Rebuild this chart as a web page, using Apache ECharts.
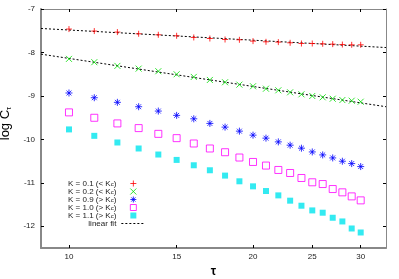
<!DOCTYPE html>
<html>
<head>
<meta charset="utf-8">
<script src="https://cdn.jsdelivr.net/npm/echarts@6/dist/echarts.min.js"></script>
<style>html,body{margin:0;padding:0;background:#fff}#c{width:399px;height:279px}</style>
</head>
<body>
<div id="c"></div>
<script>
var taus = [10,11,12,13,14,15,16,17,18,19,20,21,22,23,24,25,26,27,28,29,30];
var k01 = [-7.462,-7.508,-7.531,-7.570,-7.593,-7.616,-7.655,-7.679,-7.702,-7.709,-7.739,-7.755,-7.762,-7.778,-7.794,-7.794,-7.801,-7.808,-7.818,-7.824,-7.824];
var k02 = [-8.148,-8.224,-8.309,-8.372,-8.432,-8.502,-8.563,-8.633,-8.686,-8.741,-8.778,-8.834,-8.871,-8.917,-8.963,-9.002,-9.032,-9.065,-9.095,-9.111,-9.134];
var k09 = [-8.933,-9.042,-9.148,-9.249,-9.349,-9.448,-9.527,-9.633,-9.718,-9.811,-9.903,-9.972,-10.058,-10.134,-10.203,-10.289,-10.358,-10.427,-10.503,-10.557,-10.626];
var k10 = [-9.379,-9.503,-9.633,-9.741,-9.873,-9.972,-10.095,-10.210,-10.296,-10.418,-10.520,-10.603,-10.704,-10.774,-10.889,-10.988,-11.028,-11.143,-11.219,-11.312,-11.404];
var k11 = [-9.771,-9.919,-10.072,-10.210,-10.349,-10.473,-10.596,-10.711,-10.834,-10.965,-11.081,-11.189,-11.289,-11.411,-11.527,-11.635,-11.688,-11.804,-11.889,-12.051,-12.143];
var fitX = [9, 33];
var fit01 = [-7.448, -7.887];
var fit02 = [-8.039, -9.249];
var xTicks = [10, 15, 20, 25, 30];
var yTicks = [-12, -11, -10, -9, -8, -7];
var names = ['K = 0.1 (< Kc)', 'K = 0.2 (< Kc)', 'K = 0.9 (> Kc)', 'K = 1.0 (> Kc)', 'K = 1.1 (> Kc)', 'linear fit'];

function pairs(xs, ys) { return xs.map(function (x, i) { return [x, ys[i]]; }); }

var FONT = 'Liberation Sans';
var plusPath = 'path://M0,5L10,5M5,0L5,10';
var crossPath = 'path://M0,0L10,10M10,0L0,10';
var starPath = 'path://M0,5L10,5M5,0L5,10M1.5,1.5L8.5,8.5M8.5,1.5L1.5,8.5';
var squarePath = 'path://M0,0L10,0L10,10L0,10Z';
var colors = ['#ff0000', '#00dd00', '#0000ff', '#ff00ff', '#00e5ee'];

function axisCommon(pos, isX, main) {
  var o = {
    position: pos,
    min: isX ? 9 : -12.5,
    max: isX ? 33 : -7,
    axisLine: { show: true, lineStyle: { color: '#888', width: main ? 2 : 1 } },
    axisTick: { show: true, inside: true, length: 3, lineStyle: { color: '#000', width: 1 }, customValues: isX ? xTicks : yTicks },
    axisLabel: { show: main, color: '#222', fontSize: 8, fontFamily: FONT, margin: isX ? 5 : 6, customValues: isX ? xTicks : yTicks },
    splitLine: { show: false }
  };
  if (isX) { o.type = 'log'; o.logBase = 10; } else { o.type = 'value'; }
  return o;
}

var xMain = axisCommon('bottom', true, true);
xMain.name = 'τ';
xMain.nameLocation = 'middle';
xMain.nameGap = 14;
xMain.nameTextStyle = { fontSize: 12, fontFamily: FONT, color: '#000', fontWeight: 'bold' };
var xTop = axisCommon('top', true, false);
var yMain = axisCommon('left', false, true);
yMain.name = '{a|log C}{s|τ}';
yMain.nameLocation = 'middle';
yMain.nameRotate = 90;
yMain.nameGap = 23;
yMain.nameTextStyle = { padding: [0, 0, 0, 10], rich: { a: { fontSize: 13, fontFamily: FONT, color: '#000' }, s: { fontSize: 8, fontFamily: FONT, color: '#000', verticalAlign: 'bottom', padding: [6, 0, 0, 0] } } };
var yRight = axisCommon('right', false, false);

var legendRich = {
  a: { fontSize: 8, fontFamily: FONT, color: '#222', lineHeight: 7.6 },
  s: { fontSize: 6, fontFamily: FONT, color: '#222', lineHeight: 3, verticalAlign: 'bottom' }
};

function scatter(name, ys, symbol, size, color, filled) {
  return {
    type: 'scatter', name: name, data: pairs(taus, ys), symbol: symbol, symbolSize: size,
    xAxisIndex: 0, yAxisIndex: 0,
    itemStyle: filled ? { color: color } : { color: 'rgba(0,0,0,0)', borderColor: color, borderWidth: 1 },
    emphasis: { disabled: true }, animation: false
  };
}
function fit(ys) {
  return {
    type: 'line', name: 'linear fit', data: pairs(fitX, ys), symbol: 'none', showSymbol: false,
    lineStyle: { color: '#000', width: 1, type: [2, 2] }, itemStyle: { color: '#000' },
    xAxisIndex: 0, yAxisIndex: 0, animation: false, z: 1
  };
}
function legItem(i, icon, filled) {
  return {
    name: names[i], icon: icon,
    itemStyle: filled ? { color: colors[i], borderWidth: 0 } : { color: 'rgba(0,0,0,0)', borderColor: colors[i], borderWidth: 1 }
  };
}

var chart = echarts.init(document.getElementById('c'), null, { renderer: 'canvas' });
chart.setOption({
  backgroundColor: '#fff',
  animation: false,
  grid: { left: 41, right: 13, top: 9, bottom: 31, containLabel: false, outerBoundsMode: 'none' },
  xAxis: [xMain, xTop],
  yAxis: [yMain, yRight],
  legend: {
    data: [
      legItem(0, plusPath, false),
      legItem(1, crossPath, false),
      legItem(2, starPath, false),
      legItem(3, squarePath, false),
      legItem(4, squarePath, true),
      { name: names[5], itemStyle: { color: 'rgba(0,0,0,0)', borderWidth: 0, opacity: 0 }, lineStyle: { width: 1, color: '#000', type: [2, 2] } }
    ],
    orient: 'vertical',
    align: 'right',
    left: 68,
    top: 179.5,
    itemWidth: 24,
    itemHeight: 6,
    itemGap: 0,
    padding: 0,
    symbolKeepAspect: true,
    selectedMode: false,
    formatter: function (n) {
      if (n === 'linear fit') return '{a|linear fit}';
      return '{a|' + n.slice(0, -2) + '}{s|c}{a|)}';
    },
    textStyle: { rich: legendRich }
  },
  series: [
    scatter(names[0], k01, plusPath, 6, colors[0], false),
    scatter(names[1], k02, crossPath, 6, colors[1], false),
    scatter(names[2], k09, starPath, 7, colors[2], false),
    scatter(names[3], k10, squarePath, 7, colors[3], false),
    scatter(names[4], k11, squarePath, 6, colors[4], true),
    fit(fit01),
    fit(fit02)
  ]
});
</script>
</body>
</html>
